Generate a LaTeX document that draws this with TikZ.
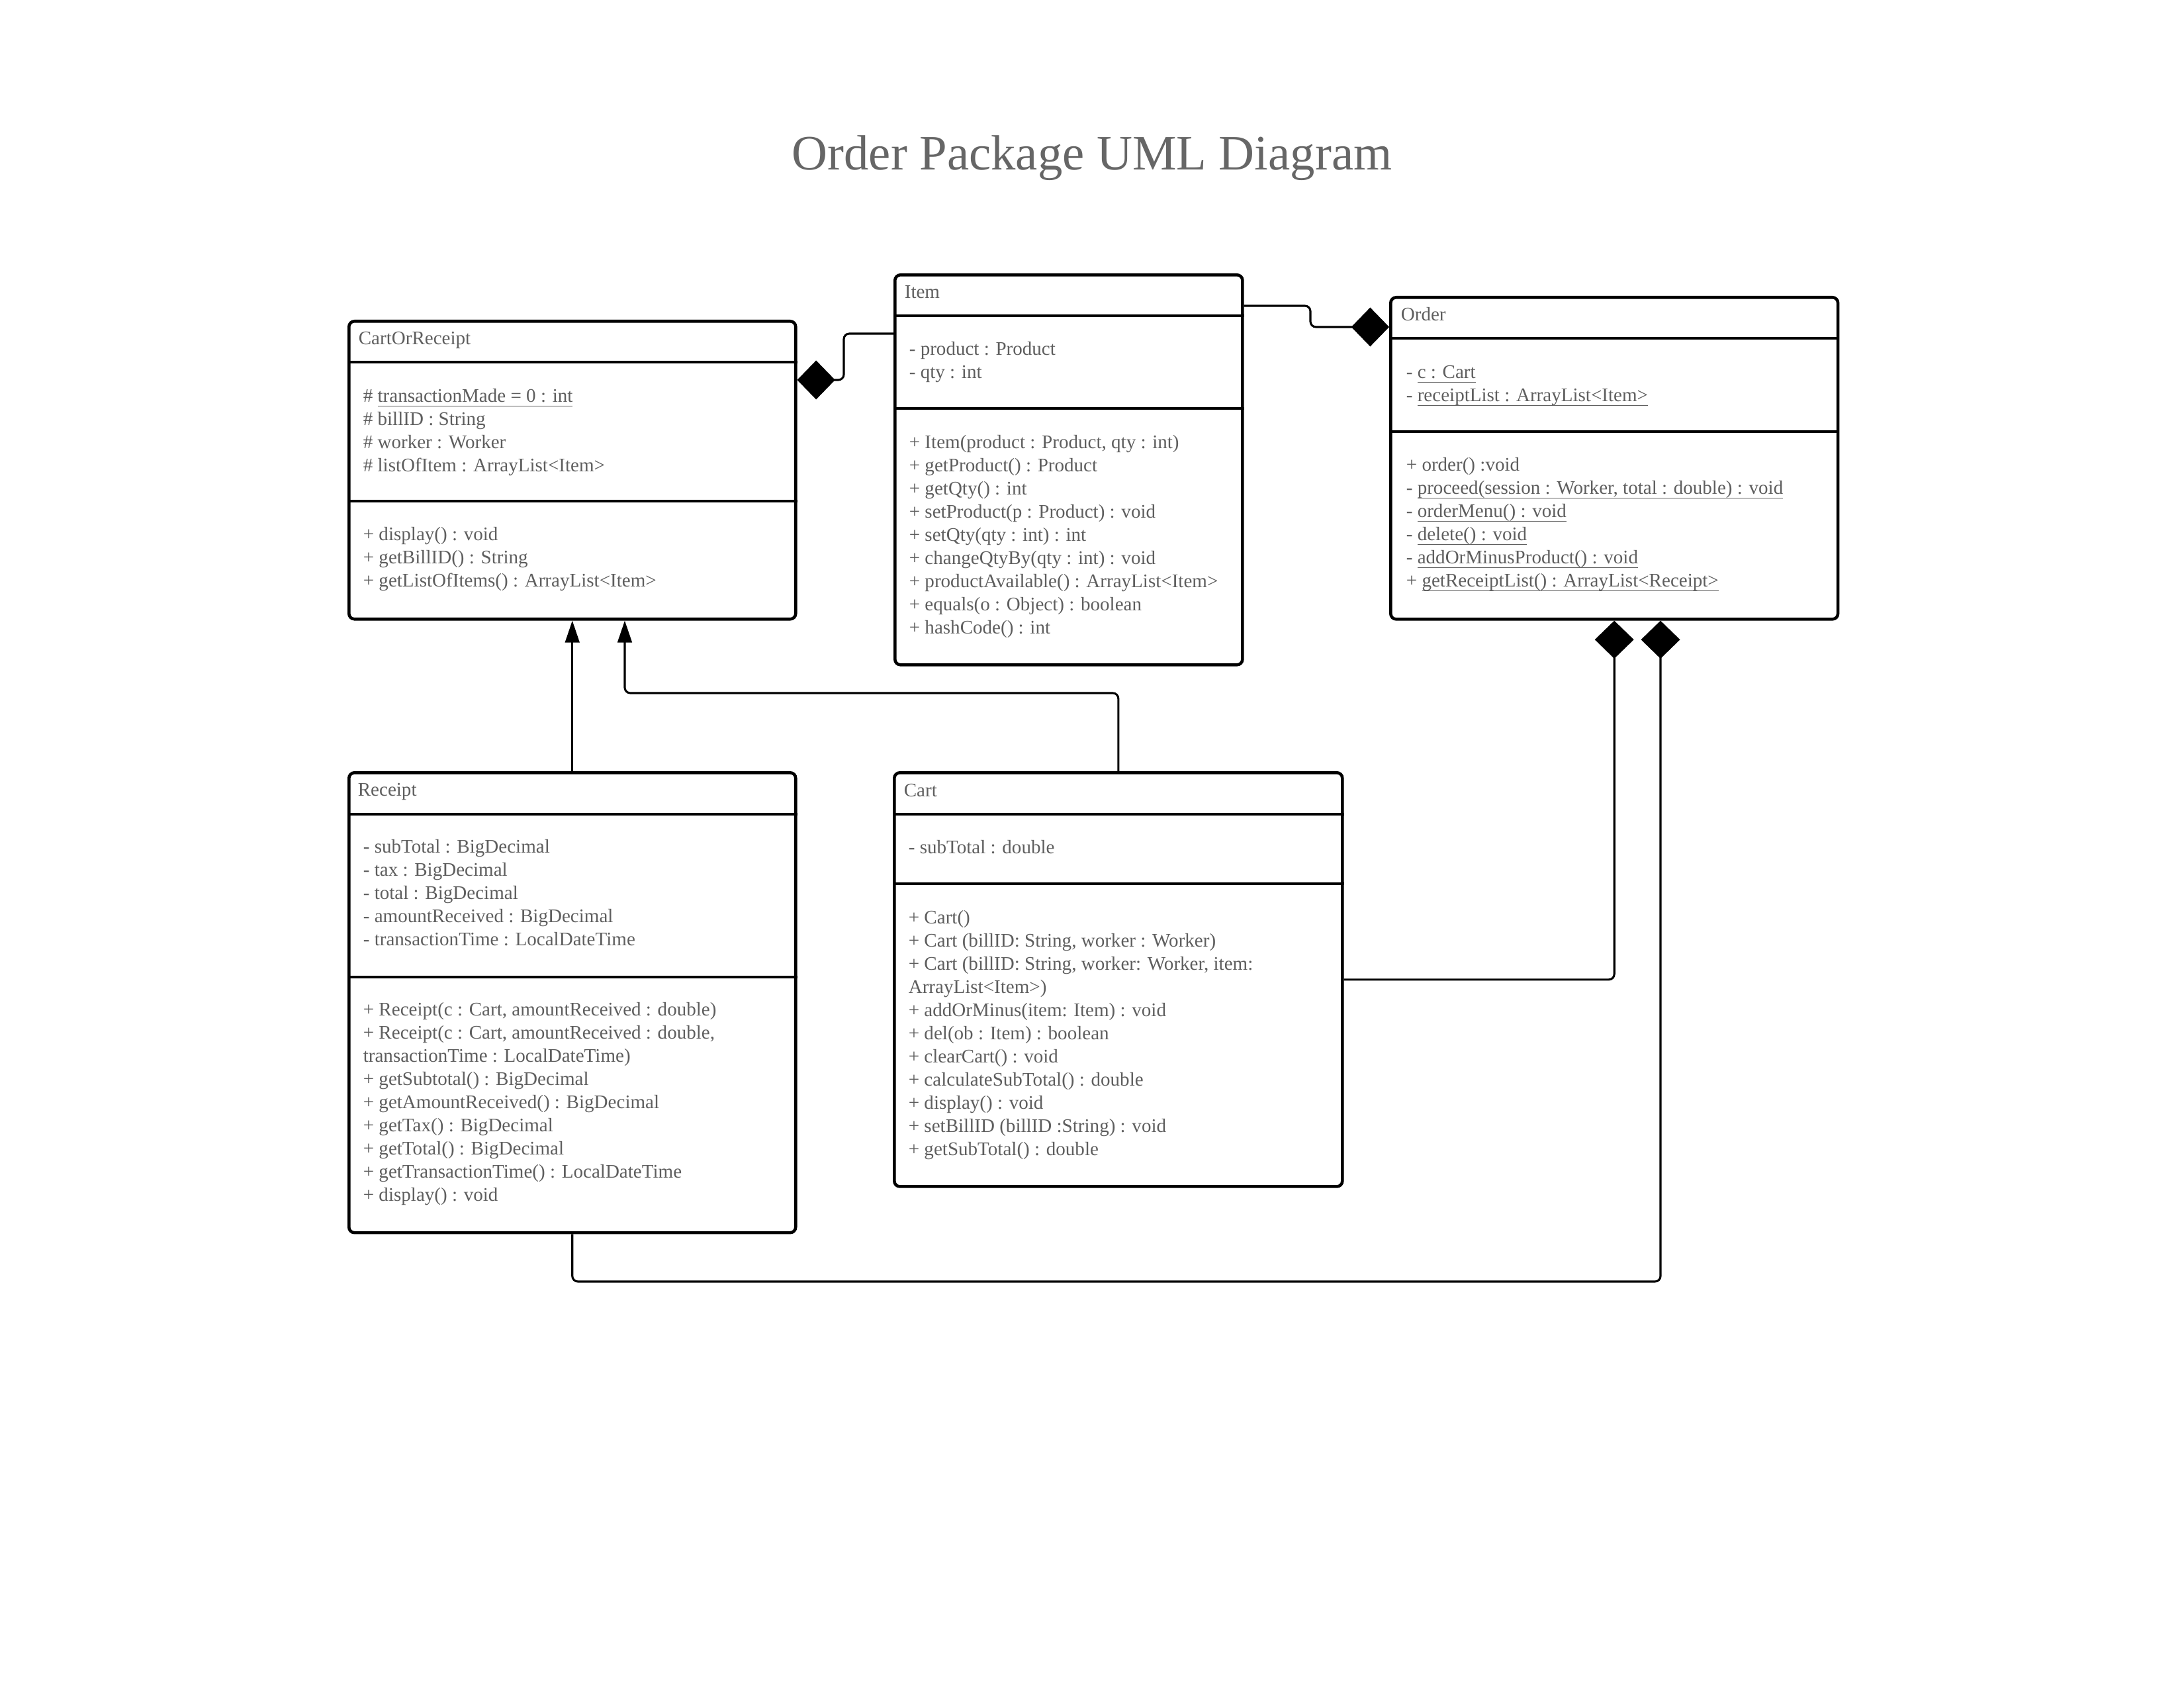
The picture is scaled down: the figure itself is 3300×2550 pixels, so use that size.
\documentclass[tikz,border=0pt]{standalone}
\usepackage{fontspec}
\setmainfont{Liberation Serif}
\usetikzlibrary{arrows.meta}
\definecolor{umltext}{HTML}{5E5E5E}
\definecolor{umltitle}{HTML}{666666}
\newcommand{\ulin}[1]{\underline{\smash{#1}}}
\begin{document}
\begin{tikzpicture}[x=0.2409pt,y=-0.2409pt]
\tikzstyle{every node}+=[inner sep=0pt]
\tikzstyle{classbox}=[draw=black, line width=1.1pt, rounded corners=2pt, anchor=north west]
\tikzstyle{classname}=[anchor=base west, text=umltext, font=\fontsize{7}{8.43}\selectfont]
\tikzstyle{members}=[anchor=north west, align=left, text=umltext, font=\fontsize{7}{8.43}\selectfont]
\tikzstyle{divider}=[black, line width=0.8pt]
\tikzstyle{assoc}=[black, line width=0.75pt, rounded corners=2pt, -{Diamond[length=13.8pt,width=14.2pt]}]
\tikzstyle{inherit}=[black, line width=0.75pt, rounded corners=2pt, -{Triangle[length=8pt,width=5.2pt]}]
\useasboundingbox (0,0) rectangle (3300,2550);
\node (title) [anchor=base, text=umltitle, font=\fontsize{18}{22}\selectfont] at (1650,257) {Order Package UML Diagram};
\node (cor) [classbox, minimum width=162.6pt, minimum height=108.4pt] at (525,483) {};
\draw [divider] (cor.west |- 0,547) -- (cor.east |- 0,547);
\draw [divider] (cor.west |- 0,757) -- (cor.east |- 0,757);
\node (corname) [classname] at (541,521) {CartOrReceipt};
\node (corattr) [members] at (548,582.5) {\strut\# \ulin{transactionMade = 0 : int}\\\# billID : String\\\# worker : Worker\\\# listOfItem : ArrayList<Item>};
\node (cormeth) [members] at (548,791.5) {\strut+ display() : void\\+ getBillID() : String\\+ getListOfItems() : ArrayList<Item>};
\node (item) [classbox, minimum width=126.5pt, minimum height=141.9pt] at (1350,413) {};
\draw [divider] (item.west |- 0,477) -- (item.east |- 0,477);
\draw [divider] (item.west |- 0,617) -- (item.east |- 0,617);
\node (itemname) [classname] at (1366,451) {Item};
\node (itemattr) [members] at (1373,511.5) {\strut- product : Product\\- qty : int};
\node (itemmeth) [members] at (1373,652.5) {\strut+ Item(product : Product, qty : int)\\+ getProduct() : Product\\+ getQty() : int\\+ setProduct(p : Product) : void\\+ setQty(qty : int) : int\\+ changeQtyBy(qty : int) : void\\+ productAvailable() : ArrayList<Item>\\+ equals(o : Object) : boolean\\+ hashCode() : int};
\node (order) [classbox, minimum width=162.8pt, minimum height=117.1pt] at (2099,447) {};
\draw [divider] (order.west |- 0,511) -- (order.east |- 0,511);
\draw [divider] (order.west |- 0,652) -- (order.east |- 0,652);
\node (ordername) [classname] at (2116,485) {Order};
\node (orderattr) [members] at (2124,546.5) {\strut- \ulin{c : Cart}\\- \ulin{receiptList : ArrayList<Item>}};
\node (ordermeth) [members] at (2124,686.5) {\strut+ order() :void\\- \ulin{proceed(session : Worker, total : double) : void}\\- \ulin{orderMenu() : void}\\- \ulin{delete() : void}\\- \ulin{addOrMinusProduct() : void}\\+ \ulin{getReceiptList() : ArrayList<Receipt>}};
\node (receipt) [classbox, minimum width=162.6pt, minimum height=167.4pt] at (525,1165) {};
\draw [divider] (receipt.west |- 0,1230) -- (receipt.east |- 0,1230);
\draw [divider] (receipt.west |- 0,1476) -- (receipt.east |- 0,1476);
\node (receiptname) [classname] at (540,1203) {Receipt};
\node (receiptattr) [members] at (548,1263.5) {\strut- subTotal : BigDecimal\\- tax : BigDecimal\\- total : BigDecimal\\- amountReceived : BigDecimal\\- transactionTime : LocalDateTime};
\node (receiptmeth) [members] at (548,1509.5) {\strut+ Receipt(c : Cart, amountReceived : double)\\+ Receipt(c : Cart, amountReceived : double,\\transactionTime : LocalDateTime)\\+ getSubtotal() : BigDecimal\\+ getAmountReceived() : BigDecimal\\+ getTax() : BigDecimal\\+ getTotal() : BigDecimal\\+ getTransactionTime() : LocalDateTime\\+ display() : void};
\node (cart) [classbox, minimum width=163.1pt, minimum height=150.6pt] at (1349,1165) {};
\draw [divider] (cart.west |- 0,1230) -- (cart.east |- 0,1230);
\draw [divider] (cart.west |- 0,1335) -- (cart.east |- 0,1335);
\node (cartname) [classname] at (1365,1204) {Cart};
\node (cartattr) [members] at (1372,1264.5) {\strut- subTotal : double};
\node (cartmeth) [members] at (1372,1370.5) {\strut+ Cart()\\+ Cart (billID: String, worker : Worker)\\+ Cart (billID: String, worker: Worker, item:\\ArrayList<Item>)\\+ addOrMinus(item: Item) : void\\+ del(ob : Item) : boolean\\+ clearCart() : void\\+ calculateSubTotal() : double\\+ display() : void\\+ setBillID (billID :String) : void\\+ getSubTotal() : double};
\draw [assoc] (item.west |- 0,504) -- (1275,504) -- (1275,574) -- (cor.east |- 0,574);
\draw [assoc] (item.east |- 0,462) -- (1980,462) -- (1980,494) -- (order.west |- 0,494);
\draw [inherit] (receipt.north) -- (cor.south);
\draw [inherit] (cart.north) -- (cart.north |- 0,1047) -- (944,1047) -- (cor.south -| 944,0);
\draw [assoc] (cart.east) -- (order.south |- cart.east) -- (order.south);
\draw [assoc] (receipt.south) -- (receipt.south |- 0,1936) -- (2509,1936) -- (order.south -| 2509,0);
\end{tikzpicture}
\end{document}
